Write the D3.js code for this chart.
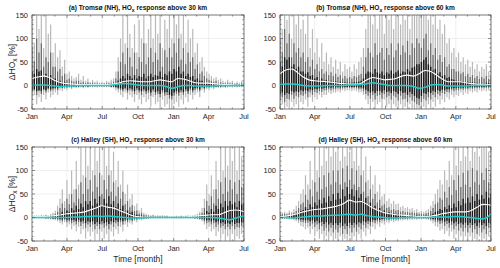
<!DOCTYPE html>
<html>
<head>
<meta charset="utf-8">
<script src="https://cdn.jsdelivr.net/npm/d3@7"></script>
<style>
  body { margin: 0; background: #fff; }
  text { font-family: "Liberation Sans", Arial, sans-serif; }
</style>
</head>
<body>
<script>
// sample spacing of the spread bars (days) and of the smoothed lines
const barStep = 6;
const lineDays = d3.range(0, 541, 15).concat([546]);
const monthNames = ["Jan", "Apr", "Jul", "Oct", "Jan", "Apr", "Jul"];
const yTicks = [-50, 0, 50, 100, 150];

// ---- (a) Tromso 30 km ----
const aHi1 = [140,90,160,120,160,80,160,110,130,70, 90,60,75,40,55,25,30,20,15,18, 25,12,20,10,15,8,12,8,10,6, 8,6,10,8,12,15,30,60,100,150, 90,160,110,80,130,70,140,100,160,90, 120,160,100,150,110,160,80,140,120,160, 100,160,130,160,110,150,90,140,100,120, 70,90,50,60,40,30,25,20,15,18, 12,15,10,8,12,8,10,6,8,6,10,8];
const aLo1 = [-30,-20,-40,-25,-35,-20,-30,-15,-25,-20, -15,-20,-10,-12,-8,-10,-6,-8,-5,-6, -5,-4,-6,-4,-5,-3,-4,-3,-4,-3, -3,-3,-4,-3,-5,-6,-10,-15,-20,-25, -15,-30,-20,-25,-35,-20,-30,-40,-25,-35, -30,-45,-25,-40,-35,-50,-30,-45,-40,-50, -50,-40,-35,-45,-30,-40,-25,-35,-20,-30, -20,-15,-25,-10,-15,-8,-10,-6,-8,-5, -5,-6,-4,-5,-4,-3,-4,-3,-4,-3,-3,-3];
const aHi2 = [80,50,100,70,90,40,60,50,70,40, 40,30,35,20,25,12,15,10,8,10, 10,6,8,5,7,5,6,4,5,4, 4,4,5,5,6,8,15,30,50,70, 45,80,60,40,70,35,60,50,90,45, 60,80,50,70,55,90,40,75,60,80, 60,90,70,100,55,80,45,70,50,60, 35,45,25,30,20,15,12,10,8,10, 6,7,5,4,6,4,5,3,4,3,5,4];
const aLo2 = [-15,-10,-20,-12,-18,-10,-15,-8,-12,-10, -8,-10,-5,-6,-4,-5,-3,-4,-3,-3, -3,-2,-3,-2,-3,-2,-2,-2,-2,-2, -2,-2,-2,-2,-3,-3,-5,-8,-10,-12, -8,-15,-10,-12,-18,-10,-15,-20,-12,-18, -15,-22,-12,-20,-18,-25,-15,-22,-20,-28, -30,-22,-18,-22,-15,-20,-12,-18,-10,-15, -10,-8,-12,-5,-8,-4,-5,-3,-4,-3, -3,-3,-2,-3,-2,-2,-2,-2,-2,-2,-2,-2];
const aHi3 = [30,25,35,30,32,20,25,20,22,15, 15,10,10,6,8,4,5,3,3,3, 3,2,3,2,2,2,2,2,2,2, 2,2,2,2,3,3,5,10,15,20, 15,25,20,15,22,15,20,18,25,15, 20,25,18,22,20,30,18,25,22,30, 25,35,30,40,25,30,20,25,18,20, 12,15,10,10,8,5,4,3,3,3, 2,2,2,2,2,2,2,2,2,2,2,2];
const aLo3 = [-10,-8,-12,-10,-12,-8,-10,-6,-8,-6, -5,-6,-3,-4,-3,-3,-2,-2,-2,-2, -2,-1,-2,-1,-2,-1,-1,-1,-1,-1, -1,-1,-1,-1,-2,-2,-3,-5,-6,-8, -5,-10,-6,-8,-12,-6,-10,-12,-8,-12, -10,-15,-8,-14,-12,-18,-10,-15,-14,-20, -22,-15,-12,-15,-10,-14,-8,-12,-6,-10, -6,-5,-8,-3,-5,-3,-3,-2,-2,-2, -2,-2,-1,-2,-1,-1,-1,-1,-1,-1,-1,-1];
const aWhite = [15,18,20,17,10,6,4,3,2,2,2,2,2,2,3,6,9,10,9,8,8,10,12,10,8,15,14,10,6,5,5,4,3,2,2,1,1,1];
const aCyan = [0,1,1,0,-1,-2,-1,-1,0,0,0,0,0,0,1,3,4,3,1,0,0,0,0,-2,-6,-3,0,0,-1,-1,-1,-1,0,0,0,0,0,0];

// ---- (b) Tromso 60 km ----
const bHi1 = [160,120,160,140,160,100,160,130,150,120, 140,110,150,80,120,70,100,60,90,50, 70,45,60,40,55,35,50,30,45,35, 40,30,45,35,50,60,80,120,160,150, 130,160,120,150,160,110,160,140,160,120, 150,160,130,160,140,160,120,160,150,160, 160,150,160,160,140,160,130,160,120,140, 110,130,90,100,70,80,60,70,50,60, 45,55,40,50,35,45,30,40,35,45,30,40];
const bLo1 = [-50,-40,-50,-45,-50,-35,-45,-40,-50,-35, -40,-30,-45,-25,-35,-25,-30,-20,-25,-20, -20,-15,-18,-15,-15,-12,-15,-10,-12,-10, -10,-12,-10,-12,-15,-15,-20,-30,-40,-50, -35,-50,-40,-35,-50,-30,-45,-40,-50,-40, -45,-50,-40,-50,-45,-50,-40,-50,-50,-50, -50,-50,-45,-50,-40,-50,-35,-45,-30,-40, -30,-35,-25,-30,-20,-25,-20,-22,-15,-20, -15,-18,-12,-15,-12,-15,-10,-12,-10,-12,-10,-10];
const bHi2 = [100,70,120,90,110,60,90,70,80,60, 70,50,60,40,55,35,45,30,35,25, 30,22,28,20,25,18,22,15,20,15, 18,15,20,18,22,25,40,60,80,70, 60,90,65,70,80,55,80,65,90,60, 75,90,65,85,70,95,65,90,80,100, 90,80,100,110,75,90,65,80,55,65, 50,60,40,45,35,35,30,30,25,28, 20,25,18,22,16,20,14,18,15,20,14,18];
const bLo2 = [-30,-25,-35,-28,-30,-20,-28,-22,-25,-20, -22,-18,-25,-15,-20,-14,-16,-12,-14,-10, -10,-8,-10,-8,-8,-6,-8,-6,-6,-5, -5,-6,-5,-6,-8,-8,-12,-18,-22,-28, -20,-30,-22,-20,-28,-18,-25,-22,-30,-22, -25,-32,-22,-30,-28,-35,-25,-32,-35,-40, -42,-35,-28,-32,-25,-30,-20,-25,-18,-22, -16,-18,-14,-15,-10,-12,-10,-10,-8,-9, -7,-8,-6,-7,-6,-6,-5,-6,-5,-5,-5,-5];
const bHi3 = [50,40,60,55,60,40,45,35,40,30, 30,25,28,20,22,15,18,12,15,10, 12,9,10,8,9,7,8,6,7,6, 6,6,7,7,8,10,15,25,30,28, 25,35,28,25,30,22,28,25,32,25, 28,32,25,30,28,35,30,38,40,45, 45,50,55,60,45,40,32,35,25,28, 20,22,16,18,14,12,10,10,8,9, 7,8,6,7,6,6,5,6,5,6,5,5];
const bLo3 = [-18,-15,-20,-16,-18,-12,-15,-12,-14,-10, -12,-10,-12,-8,-10,-7,-8,-6,-7,-5, -5,-4,-5,-4,-4,-3,-4,-3,-3,-3, -3,-3,-3,-3,-4,-4,-6,-9,-12,-15, -12,-16,-12,-11,-15,-10,-14,-12,-16,-12, -14,-18,-12,-16,-15,-20,-14,-18,-22,-26, -28,-22,-16,-18,-14,-16,-11,-14,-10,-12, -9,-10,-8,-8,-6,-6,-5,-5,-4,-5, -4,-4,-3,-4,-3,-3,-3,-3,-3,-3,-3,-3];
const bWhite = [25,33,35,28,18,12,10,9,8,7,5,4,3,3,5,12,17,15,12,13,15,20,22,20,25,32,30,22,14,8,8,8,6,4,3,3,2,2];
const bCyan = [2,3,3,2,0,-1,-1,-1,0,0,0,0,1,1,2,4,6,4,2,0,0,0,0,-2,-6,-4,1,2,1,-1,-1,-1,-1,0,0,0,0,0];

// ---- (c) Halley 30 km ----
const cHi1 = [5,4,5,4,6,5,6,5,8,10, 15,25,40,60,35,80,50,100,60,120, 70,150,90,160,110,150,100,160,120,160, 90,150,110,160,100,140,80,120,70,100, 50,70,40,50,25,30,15,20,10,8, 6,5,6,4,5,4,5,4,4,3, 3,3,4,3,4,3,4,5,4,5, 6,8,12,20,40,70,50,90,60,120, 80,150,100,160,110,160,120,150,100,160,130,150];
const cLo1 = [-2,-2,-2,-2,-2,-2,-3,-3,-4,-5, -6,-8,-12,-15,-10,-20,-15,-25,-18,-30, -20,-35,-25,-45,-30,-40,-30,-50,-35,-50, -30,-45,-35,-50,-30,-40,-25,-35,-20,-30, -15,-20,-12,-15,-8,-10,-5,-6,-4,-3, -3,-2,-2,-2,-2,-2,-2,-2,-2,-2, -2,-2,-2,-2,-2,-2,-2,-2,-2,-2, -3,-4,-5,-8,-15,-25,-20,-30,-25,-40, -30,-45,-35,-50,-40,-50,-35,-50,-40,-45,-35,-40];
const cHi2 = [3,3,3,3,3,3,4,3,5,6, 8,12,20,30,20,40,28,50,32,60, 40,75,50,85,60,80,55,90,65,95, 50,80,60,90,55,75,45,65,40,55, 28,35,22,26,14,15,8,10,6,5, 4,3,4,3,3,3,3,3,3,2, 2,2,3,2,3,2,3,3,3,3, 4,5,7,10,20,35,25,45,30,60, 40,75,50,85,55,80,60,75,50,80,65,70];
const cLo2 = [-1,-1,-1,-1,-1,-1,-2,-2,-2,-3, -3,-4,-6,-8,-5,-10,-8,-12,-10,-15, -10,-18,-13,-22,-15,-20,-15,-25,-18,-25, -15,-22,-18,-25,-15,-20,-12,-18,-10,-15, -8,-10,-6,-8,-4,-5,-3,-3,-2,-2, -2,-1,-1,-1,-1,-1,-1,-1,-1,-1, -1,-1,-1,-1,-1,-1,-1,-1,-1,-1, -2,-2,-3,-4,-8,-12,-10,-15,-12,-20, -15,-22,-18,-25,-20,-25,-18,-25,-20,-22,-18,-20];
const cHi3 = [2,2,2,2,2,2,2,2,3,3, 4,5,8,12,10,15,12,20,15,25, 18,30,22,35,28,35,25,40,30,45, 25,40,30,45,28,35,22,30,18,25, 12,15,10,12,6,6,4,4,3,2, 2,2,2,2,2,2,2,2,2,1, 1,1,2,1,2,1,2,2,2,2, 2,3,4,5,8,14,10,18,12,25, 18,30,22,35,25,35,28,32,22,35,28,30];
const cLo3 = [-1,-1,-1,-1,-1,-1,-1,-1,-1,-2, -2,-2,-3,-4,-3,-5,-4,-6,-5,-8, -5,-9,-7,-12,-8,-10,-8,-14,-10,-14, -8,-12,-10,-14,-8,-10,-6,-9,-5,-8, -4,-5,-3,-4,-2,-2,-1,-1,-1,-1, -1,-1,-1,-1,-1,-1,-1,-1,-1,-1, -1,-1,-1,-1,-1,-1,-1,-1,-1,-1, -1,-1,-2,-2,-4,-6,-5,-8,-6,-10, -8,-12,-10,-14,-12,-14,-10,-14,-11,-12,-10,-10];
const cWhite = [2,2,2,3,4,6,8,9,10,12,16,20,25,22,20,15,10,5,2,1,1,1,1,1,1,1,1,2,3,4,5,6,6,10,15,16,14,12];
const cCyan = [0,0,0,0,0,0,0,1,1,2,2,3,2,3,2,1,0,-1,-1,-1,0,0,0,0,0,0,0,0,0,0,0,0,-1,-3,-5,-1,2,3];

// ---- (d) Halley 60 km ----
const dHi1 = [12,10,12,10,15,12,18,25,35,50, 60,90,70,120,80,150,100,160,110,160, 120,160,130,160,140,160,120,160,130,160, 140,160,120,160,110,150,100,130,80,110, 70,90,55,70,45,50,35,40,30,35, 28,30,22,25,20,22,18,20,15,18, 12,14,12,15,18,25,35,50,60,80, 70,100,80,120,90,150,110,160,120,160, 130,160,120,160,140,160,130,160,150,160,140,160];
const dLo1 = [-3,-3,-3,-3,-4,-4,-6,-8,-12,-18, -20,-25,-22,-35,-25,-40,-30,-45,-35,-50, -40,-50,-40,-50,-45,-50,-40,-50,-45,-50, -40,-50,-40,-50,-35,-45,-30,-40,-25,-35, -20,-25,-15,-20,-12,-15,-10,-12,-8,-10, -8,-8,-6,-7,-5,-6,-5,-5,-4,-5, -3,-4,-3,-4,-5,-8,-12,-18,-20,-28, -25,-35,-28,-40,-30,-45,-35,-50,-40,-50, -40,-50,-40,-50,-45,-50,-40,-50,-45,-50,-40,-50];
const dHi2 = [8,7,8,7,9,8,10,14,20,28, 32,48,38,60,45,75,55,85,60,90, 65,95,70,100,75,100,70,105,75,110, 80,105,70,100,65,90,55,75,45,60, 40,50,32,38,25,28,20,22,16,18, 15,16,12,14,11,12,10,11,9,10, 8,8,7,9,10,14,20,28,32,42, 38,55,42,65,48,80,58,90,65,95, 70,100,65,105,75,100,70,95,80,105,75,95];
const dLo2 = [-2,-2,-2,-2,-2,-2,-3,-4,-6,-9, -10,-12,-11,-18,-13,-20,-15,-25,-18,-28, -22,-30,-22,-32,-25,-32,-22,-35,-25,-35, -22,-32,-22,-30,-20,-25,-16,-22,-14,-18, -10,-12,-8,-10,-6,-7,-5,-6,-4,-5, -4,-4,-3,-3,-3,-3,-2,-2,-2,-2, -2,-2,-2,-2,-3,-4,-6,-9,-10,-14, -12,-18,-14,-22,-16,-25,-18,-28,-22,-30, -22,-32,-22,-32,-25,-35,-22,-32,-25,-35,-22,-30];
const dHi3 = [4,4,4,4,5,5,6,8,10,14, 16,22,18,28,22,32,26,38,30,42, 32,45,35,50,38,52,40,60,45,65, 50,60,45,58,42,50,35,42,28,32, 22,25,18,20,14,15,10,11,8,9, 7,8,6,6,5,5,5,5,4,4, 3,3,3,4,5,6,8,12,14,18, 16,22,18,26,20,30,22,35,26,40, 30,42,32,45,35,50,38,48,40,55,42,50];
const dLo3 = [-1,-1,-1,-1,-1,-1,-2,-2,-3,-4, -5,-6,-5,-8,-6,-10,-7,-12,-9,-14, -10,-15,-11,-16,-12,-16,-11,-18,-13,-18, -11,-16,-11,-15,-10,-12,-8,-10,-7,-9, -5,-6,-4,-5,-3,-3,-2,-3,-2,-2, -2,-2,-1,-1,-1,-1,-1,-1,-1,-1, -1,-1,-1,-1,-1,-2,-3,-4,-5,-7, -6,-9,-7,-11,-8,-12,-9,-14,-11,-15, -11,-16,-11,-16,-12,-18,-11,-16,-12,-18,-11,-15];
const dWhite = [2,3,5,8,12,15,17,18,20,22,25,30,37,33,34,28,20,15,10,8,6,5,4,3,2,2,3,5,8,10,12,12,12,15,22,28,27,26];
const dCyan = [0,0,-1,0,1,2,3,3,4,5,5,6,7,5,7,4,2,1,0,-1,-1,0,0,0,0,0,0,1,1,1,2,2,1,0,-2,-3,3,8];

const panels = [
  { id: "a", site: "Tromsø (NH)", alt: "30", x0: 32, x1: 244, y0: 15, y1: 109, yLab: true, xLab: false,
    layers: [[aLo1, aHi1], [aLo2, aHi2], [aLo3, aHi3]], white: aWhite, cyan: aCyan },
  { id: "b", site: "Tromsø (NH)", alt: "60", x0: 280, x1: 491, y0: 15, y1: 109, yLab: false, xLab: false,
    layers: [[bLo1, bHi1], [bLo2, bHi2], [bLo3, bHi3]], white: bWhite, cyan: bCyan },
  { id: "c", site: "Halley (SH)", alt: "30", x0: 32, x1: 244, y0: 147, y1: 241, yLab: true, xLab: true,
    layers: [[cLo1, cHi1], [cLo2, cHi2], [cLo3, cHi3]], white: cWhite, cyan: cCyan },
  { id: "d", site: "Halley (SH)", alt: "60", x0: 280, x1: 491, y0: 147, y1: 241, yLab: false, xLab: true,
    layers: [[dLo1, dHi1], [dLo2, dHi2], [dLo3, dHi3]], white: dWhite, cyan: dCyan }
];

const layerColors = ["#b9b9b9", "#6a6a6a", "#1a1a1a"];
const layerWidths = [1.2, 1.2, 1.4];
const start = new Date(2001, 0, 1);
const dayToDate = d => new Date(2001, 0, 1 + d);

const svg = d3.select("body").append("svg")
  .attr("width", 500)
  .attr("height", 268);

panels.forEach(p => {
  const x = d3.scaleTime().domain([start, new Date(2002, 6, 1)]).range([p.x0, p.x1]);
  const y = d3.scaleLinear().domain([-50, 150]).range([p.y1, p.y0]);
  const g = svg.append("g");

  g.append("clipPath").attr("id", "clip-" + p.id)
    .append("rect")
    .attr("x", p.x0).attr("y", p.y0)
    .attr("width", p.x1 - p.x0).attr("height", p.y1 - p.y0);

  // grid
  const majors = d3.timeMonth.every(3).range(start, new Date(2002, 6, 2));
  g.selectAll(".vg").data(majors).enter().append("line")
    .attr("x1", d => x(d)).attr("x2", d => x(d))
    .attr("y1", p.y0).attr("y2", p.y1)
    .attr("stroke", "#e4e4e4").attr("stroke-width", 0.6);
  g.selectAll(".hg").data(yTicks).enter().append("line")
    .attr("x1", p.x0).attr("x2", p.x1)
    .attr("y1", d => y(d)).attr("y2", d => y(d))
    .attr("stroke", "#e4e4e4").attr("stroke-width", 0.6);

  const plot = g.append("g").attr("clip-path", "url(#clip-" + p.id + ")");

  // spread bars, light to dark
  p.layers.forEach((pair, li) => {
    const lo = pair[0], hi = pair[1];
    plot.selectAll(".bar" + li).data(hi).enter().append("line")
      .attr("x1", (d, i) => x(dayToDate(i * barStep)))
      .attr("x2", (d, i) => x(dayToDate(i * barStep)))
      .attr("y1", d => y(d))
      .attr("y2", (d, i) => y(lo[i]))
      .attr("stroke", layerColors[li])
      .attr("stroke-width", layerWidths[li]);
  });

  const line = vals => d3.line()
    .x((d, i) => x(dayToDate(lineDays[i])))
    .y(d => y(d))
    .curve(d3.curveMonotoneX)(vals);

  plot.append("path").attr("d", line(p.white))
    .attr("fill", "none").attr("stroke", "#ffffff").attr("stroke-width", 1.1);
  plot.append("path").attr("d", line(p.cyan))
    .attr("fill", "none").attr("stroke", "#25cdcd").attr("stroke-width", 1.5);

  // frame + ticks
  g.append("rect")
    .attr("x", p.x0).attr("y", p.y0)
    .attr("width", p.x1 - p.x0).attr("height", p.y1 - p.y0)
    .attr("fill", "none").attr("stroke", "#4a4a4a").attr("stroke-width", 0.7);

  const minorX = d3.timeMonth.every(1).range(start, new Date(2002, 6, 2));
  [p.y0, p.y1].forEach((yy, k) => {
    const dir = k === 0 ? 1 : -1;
    g.selectAll(".mx" + k).data(minorX).enter().append("line")
      .attr("x1", d => x(d)).attr("x2", d => x(d))
      .attr("y1", yy).attr("y2", d => yy + dir * (d.getMonth() % 3 === 0 ? 3 : 1.6))
      .attr("stroke", "#4a4a4a").attr("stroke-width", 0.6);
  });
  const minorY = d3.range(-50, 151, 10);
  [p.x0, p.x1].forEach((xx, k) => {
    const dir = k === 0 ? 1 : -1;
    g.selectAll(".my" + k).data(minorY).enter().append("line")
      .attr("x1", xx).attr("x2", d => xx + dir * (d % 50 === 0 ? 3 : 1.6))
      .attr("y1", d => y(d)).attr("y2", d => y(d))
      .attr("stroke", "#4a4a4a").attr("stroke-width", 0.6);
  });

  // tick labels
  g.selectAll(".xl").data(majors).enter().append("text")
    .attr("x", d => x(d)).attr("y", p.y1 + 10)
    .attr("text-anchor", "middle").attr("font-size", 7.5).attr("fill", "#262626")
    .text((d, i) => monthNames[i]);
  g.selectAll(".yl").data(yTicks).enter().append("text")
    .attr("x", p.x0 - 4).attr("y", d => y(d) + 2.6)
    .attr("text-anchor", "end").attr("font-size", 7.5).attr("fill", "#262626")
    .text(d => d);

  // title
  const t = g.append("text")
    .attr("x", (p.x0 + p.x1) / 2).attr("y", p.y0 - 5)
    .attr("text-anchor", "middle").attr("font-size", 6.6).attr("font-weight", "bold")
    .attr("fill", "#111");
  t.append("tspan").text("(" + p.id + ") " + p.site + ", HO");
  t.append("tspan").attr("dy", 1.8).attr("font-size", 5).text("x");
  t.append("tspan").attr("dy", -1.8).text(" response above " + p.alt + " km");

  if (p.yLab) {
    const yl = g.append("text")
      .attr("transform", `translate(15,${(p.y0 + p.y1) / 2}) rotate(-90)`)
      .attr("text-anchor", "middle").attr("font-size", 8.5).attr("fill", "#262626");
    yl.append("tspan").text("ΔHO");
    yl.append("tspan").attr("dy", 2.2).attr("font-size", 6.5).text("x");
    yl.append("tspan").attr("dy", -2.2).text(" [%]");
  }
  if (p.xLab) {
    g.append("text")
      .attr("x", (p.x0 + p.x1) / 2).attr("y", p.y1 + 21)
      .attr("text-anchor", "middle").attr("font-size", 8.5).attr("fill", "#262626")
      .text("Time [month]");
  }
});
</script>
</body>
</html>
